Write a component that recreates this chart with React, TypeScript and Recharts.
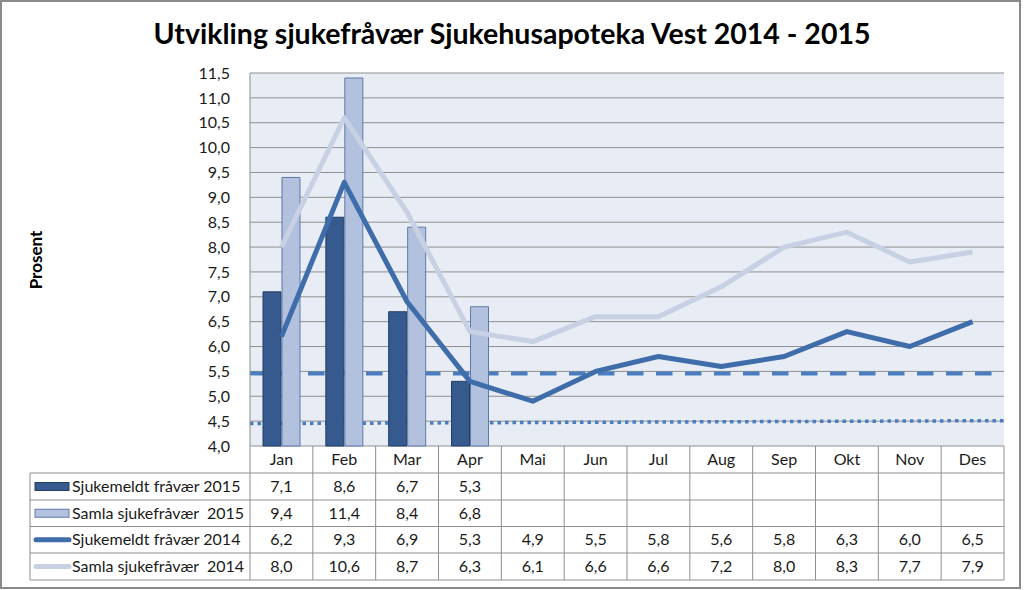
import React from "react";
import {
  ComposedChart,
  Bar,
  Line,
  XAxis,
  YAxis,
  CartesianGrid,
  ReferenceLine,
} from "recharts";

const months = ["Jan", "Feb", "Mar", "Apr", "Mai", "Jun", "Jul", "Aug", "Sep", "Okt", "Nov", "Des"];
const sjukemeldt2015 = [7.1, 8.6, 6.7, 5.3, null, null, null, null, null, null, null, null];
const samla2015 = [9.4, 11.4, 8.4, 6.8, null, null, null, null, null, null, null, null];
const sjukemeldt2014 = [6.2, 9.3, 6.9, 5.3, 4.9, 5.5, 5.8, 5.6, 5.8, 6.3, 6.0, 6.5];
const samla2014 = [8.0, 10.6, 8.7, 6.3, 6.1, 6.6, 6.6, 7.2, 8.0, 8.3, 7.7, 7.9];
const yTicks = [4, 4.5, 5, 5.5, 6, 6.5, 7, 7.5, 8, 8.5, 9, 9.5, 10, 10.5, 11, 11.5];
// horizontal dashed level and the dotted trend (start / end)
const dashedLevel = 5.46;
const dottedTrend = [4.45, 4.51];

const seriesRows = [
  { name: "Sjukemeldt fråvær 2015", values: sjukemeldt2015, kind: "bar", color: "#365A8E", stroke: "#223F66" },
  { name: "Samla sjukefråvær  2015", values: samla2015, kind: "bar", color: "#B2C1DE", stroke: "#5F78A8" },
  { name: "Sjukemeldt fråvær 2014", values: sjukemeldt2014, kind: "line", color: "#3E6DAA", stroke: "#3E6DAA" },
  { name: "Samla sjukefråvær  2014", values: samla2014, kind: "line", color: "#C8D0E3", stroke: "#C8D0E3" },
];

const data = months.map((m, i) => ({
  month: m,
  s2015: sjukemeldt2015[i],
  a2015: samla2015[i],
  s2014: sjukemeldt2014[i],
  a2014: samla2014[i],
}));

const FONT = "Lato, 'Open Sans', sans-serif";
const PLOT_LEFT = 250;
const PLOT_RIGHT = 1004;
const PLOT_TOP = 73;
const PLOT_BOTTOM = 446;
const W = 1024;
const H = 590;
const COL_W = (PLOT_RIGHT - PLOT_LEFT) / 12;
const TABLE_LEFT = 30;
const ROW_Y = [446, 473, 500, 526.5, 553, 580];
const GRID = "#8F8F8F";

const fmt = (v: number | null) => (v == null ? "" : v.toFixed(1).replace(".", ","));

function DataTable() {
  const lines: React.ReactNode[] = [];
  // horizontal lines
  for (let r = 1; r < ROW_Y.length; r++) {
    lines.push(
      <line key={`h${r}`} x1={TABLE_LEFT} x2={PLOT_RIGHT} y1={ROW_Y[r]} y2={ROW_Y[r]} stroke={GRID} />
    );
  }
  // vertical lines
  for (let c = 0; c <= 12; c++) {
    const x = PLOT_LEFT + c * COL_W;
    lines.push(<line key={`v${c}`} x1={x} x2={x} y1={ROW_Y[0]} y2={ROW_Y[5]} stroke={GRID} />);
  }
  lines.push(<line key="vl" x1={TABLE_LEFT} x2={TABLE_LEFT} y1={ROW_Y[1]} y2={ROW_Y[5]} stroke={GRID} />);

  return (
    <svg width={W} height={H} style={{ position: "absolute", left: 0, top: 0, pointerEvents: "none" }}>
      {lines}
      {months.map((m, i) => (
        <text
          key={m}
          x={PLOT_LEFT + (i + 0.5) * COL_W}
          y={(ROW_Y[0] + ROW_Y[1]) / 2 + 5.5}
          textAnchor="middle"
          fontFamily={FONT}
          fontSize={16}
          fill="#1a1a1a"
        >
          {m}
        </text>
      ))}
      {seriesRows.map((s, r) => {
        const cy = (ROW_Y[r + 1] + ROW_Y[r + 2]) / 2;
        return (
          <g key={s.name}>
            {s.kind === "bar" ? (
              <rect x={35} y={cy - 4} width={34} height={8} fill={s.color} stroke={s.stroke} strokeWidth={1} />
            ) : (
              <line x1={36} x2={69} y1={cy} y2={cy} stroke={s.color} strokeWidth={5} strokeLinecap="round" />
            )}
            <text x={72} y={cy + 5.5} fontFamily={FONT} fontSize={16} fill="#1a1a1a" style={{ whiteSpace: "pre" }}>
              {s.name}
            </text>
            {s.values.map((v, i) => (
              <text
                key={i}
                x={PLOT_LEFT + (i + 0.5) * COL_W}
                y={cy + 5.5}
                textAnchor="middle"
                fontFamily={FONT}
                fontSize={16}
                fill="#1a1a1a"
              >
                {fmt(v)}
              </text>
            ))}
          </g>
        );
      })}
    </svg>
  );
}

export default function App() {
  return (
    <div style={{ position: "absolute", left: 0, top: 0, width: W, height: H, background: "#fff", fontFamily: FONT }}>
      <div
        style={{
          position: "absolute",
          left: 0,
          top: 0,
          width: 1021,
          height: 589,
          boxSizing: "border-box",
          border: "2px solid #8A8A8A",
        }}
      />
      <div
        style={{
          position: "absolute",
          left: 0,
          top: 15,
          width: 1024,
          textAlign: "center",
          fontSize: 28.5,
          fontWeight: 700,
          color: "#000",
          lineHeight: "36px",
        }}
      >
        Utvikling sjukefråvær Sjukehusapoteka Vest 2014 - 2015
      </div>
      <div
        style={{
          position: "absolute",
          left: 35,
          top: 260,
          transform: "translate(-50%, -50%) rotate(-90deg)",
          fontSize: 17,
          fontWeight: 700,
          color: "#000",
          whiteSpace: "nowrap",
        }}
      >
        Prosent
      </div>
      <div style={{ position: "absolute", left: 0, top: 0 }}>
        <ComposedChart
          width={W}
          height={H}
          data={data}
          margin={{ top: PLOT_TOP, right: W - PLOT_RIGHT, left: PLOT_LEFT - 60, bottom: H - PLOT_BOTTOM }}
          barSize={18}
          barGap={1}
        >
          <CartesianGrid vertical={false} stroke={GRID} fill="#E8EDF5" fillOpacity={1} />
          <XAxis dataKey="month" hide />
          {/* index axis spanning the plot edge to edge, used for the trend segment */}
          <XAxis xAxisId="trend" type="number" domain={[0, months.length - 1]} hide />
          <YAxis
            width={60}
            domain={[4, 11.5]}
            ticks={yTicks}
            interval={0}
            tickLine={false}
            axisLine={{ stroke: GRID }}
            tickMargin={14}
            tickFormatter={(v: number) => v.toFixed(1).replace(".", ",")}
            tick={{ fill: "#1a1a1a", fontSize: 16, fontFamily: FONT }}
          />
          {/* level lines sit behind the bars */}
          <ReferenceLine y={dashedLevel} stroke="#4A7DC0" strokeWidth={4} strokeDasharray="16.5 12.5" zIndex={250} />
          <ReferenceLine
            xAxisId="trend"
            segment={[
              { x: 0, y: dottedTrend[0] },
              { x: months.length - 1, y: dottedTrend[1] },
            ]}
            stroke="#4A7DC0"
            strokeWidth={3.5}
            strokeDasharray="3.5 4"
            zIndex={250}
          />
          <Bar dataKey="s2015" name={seriesRows[0].name} fill={seriesRows[0].color} stroke={seriesRows[0].stroke} strokeWidth={1} isAnimationActive={false} />
          <Bar dataKey="a2015" name={seriesRows[1].name} fill={seriesRows[1].color} stroke={seriesRows[1].stroke} strokeWidth={1} isAnimationActive={false} />
          <Line
            type="linear"
            dataKey="a2014"
            name={seriesRows[3].name}
            stroke={seriesRows[3].color}
            strokeWidth={5}
            dot={false}
            strokeLinejoin="round"
            isAnimationActive={false}
          />
          <Line
            type="linear"
            dataKey="s2014"
            name={seriesRows[2].name}
            stroke={seriesRows[2].color}
            strokeWidth={5}
            dot={false}
            strokeLinejoin="round"
            isAnimationActive={false}
          />
        </ComposedChart>
      </div>
      <DataTable />
    </div>
  );
}
